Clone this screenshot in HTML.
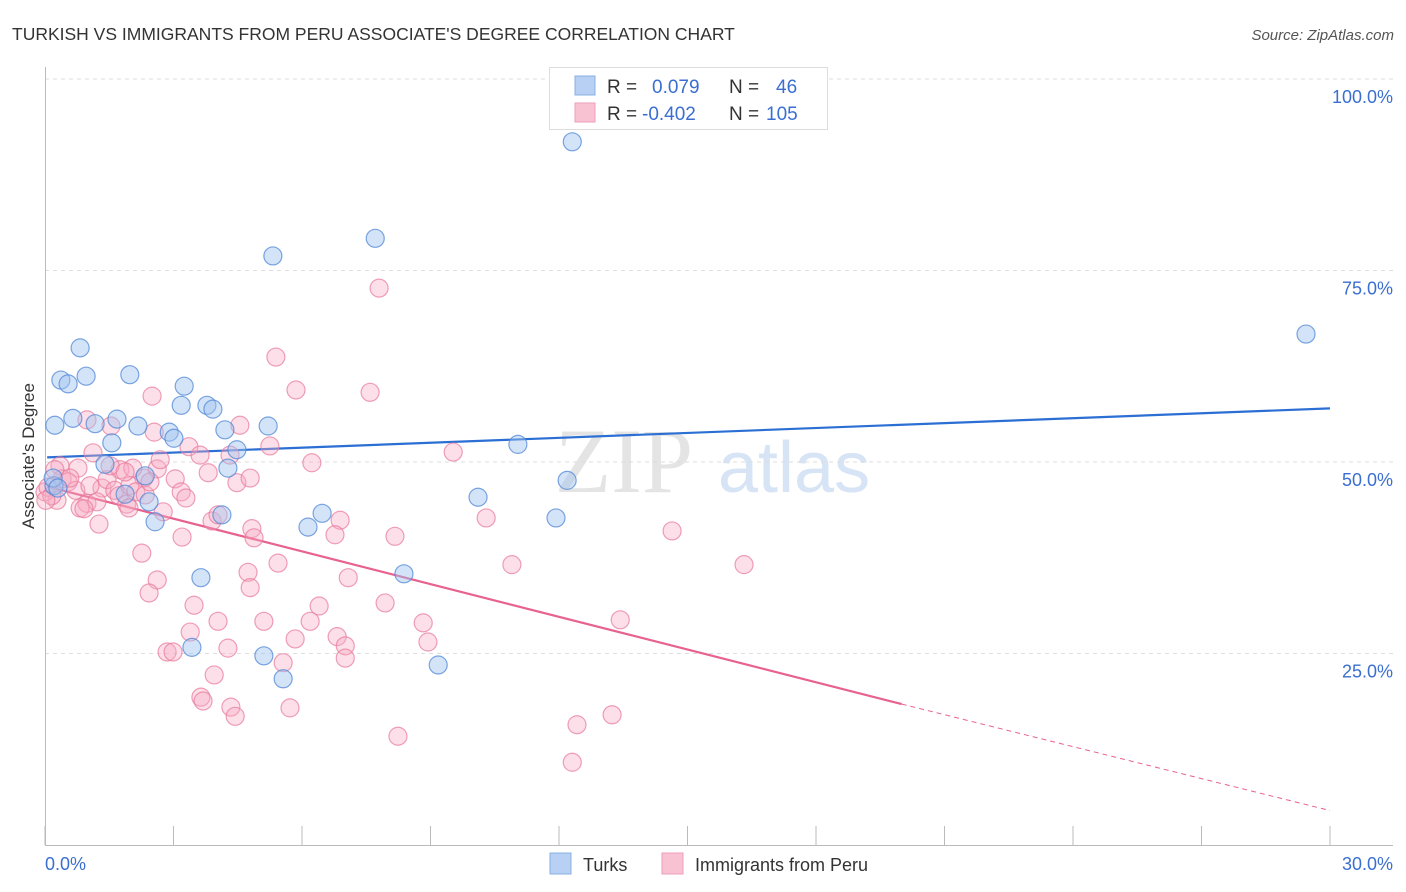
<!DOCTYPE html>
<html><head><meta charset="utf-8"><style>
body{margin:0;background:#fff;font-family:"Liberation Sans",sans-serif;}
svg{display:block}
</style></head><body>
<svg id="chart" width="1406" height="892" xmlns="http://www.w3.org/2000/svg">
<text x="12" y="40" font-size="17.5" fill="#333">TURKISH VS IMMIGRANTS FROM PERU ASSOCIATE'S DEGREE CORRELATION CHART</text>
<text x="1394" y="40" font-size="15" fill="#555" font-style="italic" text-anchor="end">Source: ZipAtlas.com</text>
<g>
<text x="555" y="492" font-family="Liberation Serif,serif" font-size="92" fill="#e4e4e4">ZIP</text>
<text x="718" y="492" font-size="72" fill="#d6e4f5">atlas</text>
</g>
<g id="grid"></g>
<g id="axes"></g>
<g id="lines"></g>
<g id="points"></g>
<text transform="translate(34,456) rotate(-90)" font-size="17" fill="#333" text-anchor="middle">Associate's Degree</text>
<g>
<rect x="549.5" y="67.5" width="278" height="62" fill="#fff" stroke="#ddd"/>
<rect x="575" y="76" width="20" height="19" fill="#b7d0f3" stroke="#8ab0e6"/>
<rect x="575" y="103" width="20" height="19" fill="#f9c2d3" stroke="#ee9fb8"/>
<text x="607" y="93" font-size="19" fill="#333">R =</text>
<text x="652" y="93" font-size="19" fill="#3a6fd1">0.079</text>
<text x="729" y="93" font-size="19" fill="#333">N =</text>
<text x="776" y="93" font-size="19" fill="#3a6fd1">46</text>
<text x="607" y="120" font-size="19" fill="#333">R =</text>
<text x="642" y="120" font-size="19" fill="#3a6fd1">-0.402</text>
<text x="729" y="120" font-size="19" fill="#333">N =</text>
<text x="766" y="120" font-size="19" fill="#3a6fd1">105</text>
</g>
<g>
<rect x="550" y="853" width="21" height="21" fill="#b7d0f3" stroke="#8ab0e6"/>
<text x="583" y="871" font-size="18" fill="#333">Turks</text>
<rect x="662" y="853" width="21" height="21" fill="#f9c2d3" stroke="#ee9fb8"/>
<text x="695" y="871" font-size="18" fill="#333">Immigrants from Peru</text>
</g>
</svg>
<script>
const xTicks=[0,3,6,9,12,15,18,21,24,27,30];
const yTicks=[25,50,75,100];
const xTickLabels=["0.0%","30.0%"];
const yTickLabels=["25.0%","50.0%","75.0%","100.0%"];
const turksX=[12.31,7.71,5.32,29.44,0.82,0.96,0.37,0.54,1.98,3.25,0.65,1.68,1.17,3.18,3.78,3.92,5.21,0.23,2.17,2.90,3.01,4.20,1.56,4.48,11.04,1.40,4.27,2.34,12.19,10.11,1.87,2.43,6.47,4.13,6.14,2.57,11.93,8.38,3.64,3.43,5.11,9.18,5.56,0.21,0.19,0.30];
const turksY=[91.8,79.2,76.9,66.7,64.9,61.2,60.7,60.2,61.4,59.9,55.7,55.6,55.0,57.4,57.4,56.9,54.7,54.8,54.7,53.9,53.1,54.2,52.5,51.6,52.3,49.7,49.2,48.2,47.6,45.4,45.8,44.8,43.3,43.1,41.5,42.2,42.7,35.4,34.9,25.8,24.7,23.5,21.7,46.9,47.9,46.6];
const peruX=[7.80,5.39,5.86,7.59,2.50,0.98,1.54,4.55,5.25,2.55,3.36,9.53,6.23,0.35,0.77,1.12,1.75,2.31,2.05,2.62,3.04,3.18,3.81,4.48,4.79,0.40,0.54,0.72,1.33,1.45,1.63,1.73,1.98,2.12,2.34,3.29,0.28,0.98,1.21,0.82,0.91,1.26,1.91,1.96,2.76,3.90,4.04,4.83,4.88,3.20,2.26,6.89,6.77,8.17,10.30,14.64,10.90,16.32,4.74,5.44,2.62,4.79,2.43,7.08,3.48,6.40,7.94,5.11,4.04,6.19,8.83,13.43,3.39,5.84,6.82,7.01,8.94,4.27,2.85,2.99,7.01,5.56,3.95,3.64,3.69,4.34,4.44,5.72,8.24,12.42,13.24,12.31,0.0,0.07,0.16,0.02,0.23,0.58,1.05,1.52,2.45,3.62,4.32,2.69,1.87];
const peruY=[72.7,63.7,59.4,59.1,58.6,55.5,54.7,54.8,52.1,53.9,52.0,51.3,49.9,49.5,49.2,51.2,49.0,47.9,49.2,49.1,47.8,46.1,48.6,47.3,47.9,47.8,47.4,46.3,46.6,47.7,46.3,45.6,46.9,46.1,45.7,45.3,45.0,44.6,44.8,44.0,43.9,41.9,44.5,44.0,43.5,42.3,43.1,41.3,40.1,40.2,38.1,42.4,40.5,40.3,42.7,41.0,36.6,36.6,35.6,36.8,34.6,33.6,32.9,34.9,31.3,31.2,31.6,29.2,29.2,29.2,29.0,29.4,27.8,26.9,27.2,26.0,26.5,25.7,25.2,25.2,24.4,23.8,22.2,19.3,18.8,18.0,16.8,17.9,14.2,15.7,17.0,10.8,46.1,46.7,45.6,45.0,49.0,47.9,46.9,49.5,47.4,50.9,50.9,50.3,48.7];
const turksTrend=[[0.05,50.6],[30,57.0]];
const peruTrend=[[0.05,46.8],[20.0,18.4],[30,4.5]];

const NS="http://www.w3.org/2000/svg";
const X=v=>45+v/30*1285;
const Y=v=>845-v/100*766;
function mk(tag,attrs,parent){const e=document.createElementNS(NS,tag);for(const k in attrs)e.setAttribute(k,attrs[k]);parent.appendChild(e);return e;}
const grid=document.getElementById('grid'),axes=document.getElementById('axes'),lines=document.getElementById('lines'),pts=document.getElementById('points');
yTicks.forEach((t,i)=>{
  const l=mk('line',{x1:45,x2:1393,y1:Y(t),y2:Y(t),stroke:'#ddd','stroke-dasharray':'4,4'},grid);
  
  
  const tx=mk('text',{x:1393,y:Y(t)+24,'font-size':18,fill:'#3a6fd1','text-anchor':'end'},axes);
  tx.textContent=yTickLabels[i];
  
  
});
const ax=mk('line',{x1:45,x2:1393,y1:845.5,y2:845.5,stroke:'#bbb'},axes);


const ay=mk('line',{x1:45.5,x2:45.5,y1:67,y2:845,stroke:'#bbb'},axes);


xTicks.forEach(t=>{
  const l=mk('line',{x1:X(t),x2:X(t),y1:826,y2:845,stroke:'#bbb'},axes);
  
  
});
const xl0=mk('text',{x:45,y:870,'font-size':18,fill:'#3a6fd1'},axes);
xl0.textContent=xTickLabels[0];


const xl1=mk('text',{x:1393,y:870,'font-size':18,fill:'#3a6fd1','text-anchor':'end'},axes);
xl1.textContent=xTickLabels[1];



function dot(x,y,fill,stroke,name){
  const c=mk('circle',{cx:X(x),cy:Y(y),r:9,fill:fill,stroke:stroke,'stroke-width':1.2},pts);
  
  
}
peruX.forEach((x,i)=>dot(x,peruY[i],'rgba(246,170,195,0.38)','rgba(232,120,155,0.7)','peru-point'));
turksX.forEach((x,i)=>dot(x,turksY[i],'rgba(160,195,240,0.45)','rgba(80,135,215,0.75)','turks-point'));

const bt=mk('line',{x1:X(turksTrend[0][0]),y1:Y(turksTrend[0][1]),x2:X(turksTrend[1][0]),y2:Y(turksTrend[1][1]),stroke:'#2b6fd4','stroke-width':2.2},lines);


const pt=mk('line',{x1:X(peruTrend[0][0]),y1:Y(peruTrend[0][1]),x2:X(peruTrend[1][0]),y2:Y(peruTrend[1][1]),stroke:'#e8628f','stroke-width':2.2},lines);


const pd=mk('line',{x1:X(peruTrend[1][0]),y1:Y(peruTrend[1][1]),x2:X(peruTrend[2][0]),y2:Y(peruTrend[2][1]),stroke:'#e8628f','stroke-width':1,'stroke-dasharray':'5,4'},lines);


</script>
</body></html>
